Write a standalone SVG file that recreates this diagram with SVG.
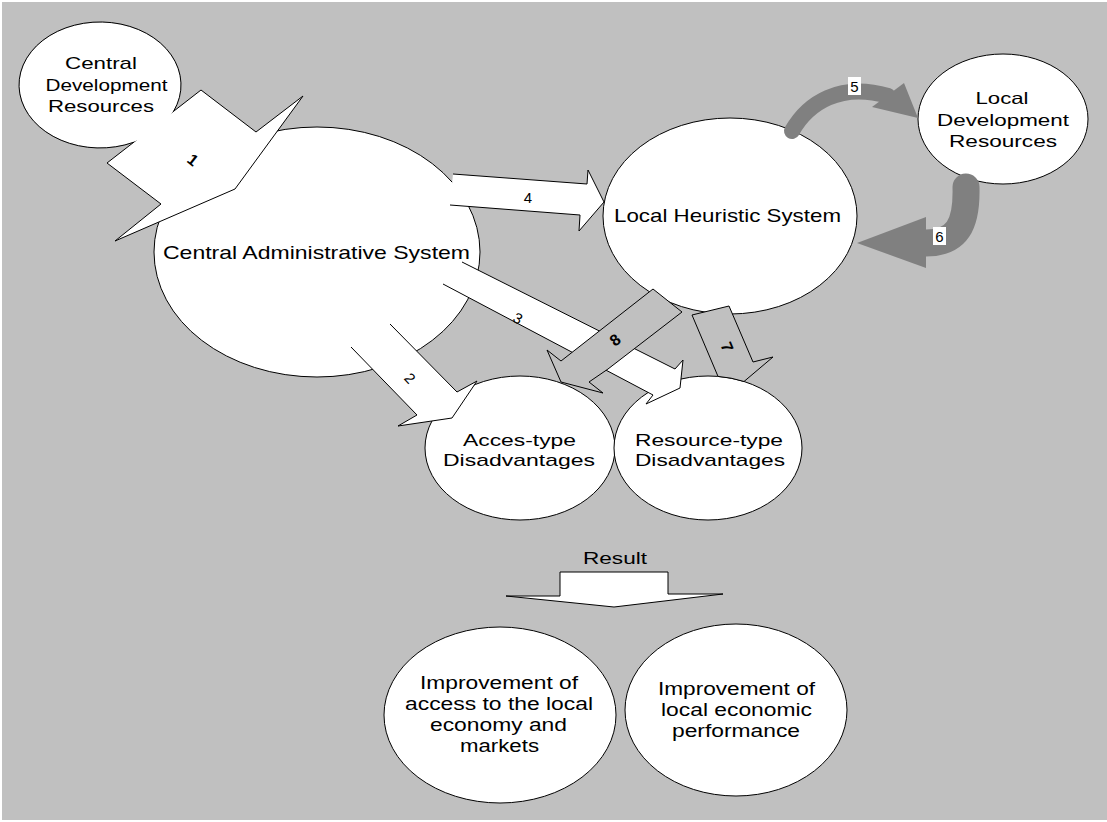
<svg xmlns="http://www.w3.org/2000/svg" width="1107" height="822" viewBox="0 0 1107 822">
<style>
.bg{fill:#c0c0c0}
.node{fill:#fff;stroke:#000;stroke-width:1}
.fillonly{fill:#fff;stroke:none}
.t{font-family:"Liberation Sans",Arial,sans-serif;fill:#000;text-anchor:middle}
.wfill{fill:#fff;stroke:none}
.wline{fill:none;stroke:#000;stroke-width:1;stroke-linejoin:miter}
.wclosed{fill:#fff;stroke:#000;stroke-width:1}
.gclosed{fill:#c0c0c0;stroke:#000;stroke-width:1}
.band{fill:none;stroke:#808080;stroke-linecap:round}
.head{fill:#808080;stroke:none}
.num{font-family:"Liberation Sans",Arial,sans-serif;font-size:15px;fill:#000;text-anchor:middle;dominant-baseline:central}
.numb{font-family:"Liberation Sans",Arial,sans-serif;font-size:16px;font-weight:bold;fill:#000;text-anchor:middle;dominant-baseline:central}
</style>
<rect x="0" y="0" width="1107" height="822" fill="#fff"/>
<rect class="bg" x="2" y="2" width="1105" height="818"/>

<g id="central-admin">
<ellipse class="node" cx="317" cy="252" rx="163" ry="125"/>
<text class="t" x="316.5" y="259" font-size="19" textLength="307" lengthAdjust="spacingAndGlyphs">Central Administrative System</text>
</g>
<g id="local-heuristic">
<ellipse class="node" cx="730" cy="216" rx="127" ry="98"/>
<text class="t" x="727.5" y="222" font-size="18.5" textLength="227" lengthAdjust="spacingAndGlyphs">Local Heuristic System</text>
</g>
<g id="local-dev">
<ellipse class="node" cx="1003" cy="119" rx="85" ry="65"/>
<text class="t" x="1002" y="104" font-size="16.5" textLength="53" lengthAdjust="spacingAndGlyphs">Local</text>
<text class="t" x="1003" y="125.5" font-size="16.5" textLength="132" lengthAdjust="spacingAndGlyphs">Development</text>
<text class="t" x="1003" y="147" font-size="16.5" textLength="108" lengthAdjust="spacingAndGlyphs">Resources</text>
</g>
<g id="access-dis">
<ellipse class="node" cx="520" cy="448" rx="95" ry="72"/>
<text class="t" x="519.5" y="446" font-size="17" textLength="113" lengthAdjust="spacingAndGlyphs">Acces-type</text>
<text class="t" x="519" y="466" font-size="17" textLength="152" lengthAdjust="spacingAndGlyphs">Disadvantages</text>
</g>
<g id="resource-dis">
<ellipse class="node" cx="708" cy="448" rx="94" ry="72"/>
<text class="t" x="709" y="446" font-size="17" textLength="148" lengthAdjust="spacingAndGlyphs">Resource-type</text>
<text class="t" x="710" y="466" font-size="17" textLength="150" lengthAdjust="spacingAndGlyphs">Disadvantages</text>
</g>
<g id="improve-access">
<ellipse class="node" cx="500" cy="715" rx="116" ry="88"/>
<text class="t" x="499" y="689" font-size="17.5" textLength="158" lengthAdjust="spacingAndGlyphs">Improvement of</text>
<text class="t" x="499" y="710" font-size="17.5" textLength="188" lengthAdjust="spacingAndGlyphs">access to the local</text>
<text class="t" x="498.5" y="731" font-size="17.5" textLength="137" lengthAdjust="spacingAndGlyphs">economy and</text>
<text class="t" x="499.5" y="752" font-size="17.5" textLength="79" lengthAdjust="spacingAndGlyphs">markets</text>
</g>
<g id="improve-performance">
<ellipse class="node" cx="736" cy="710" rx="111" ry="86"/>
<text class="t" x="736.5" y="695" font-size="17.5" textLength="157" lengthAdjust="spacingAndGlyphs">Improvement of</text>
<text class="t" x="736.5" y="716" font-size="17.5" textLength="151" lengthAdjust="spacingAndGlyphs">local economic</text>
<text class="t" x="736" y="737" font-size="17.5" textLength="128" lengthAdjust="spacingAndGlyphs">performance</text>
</g>

<g id="connectors">
<!-- 1 -->
<polygon class="wclosed" points="107,163 201,90 256,132 303,96 235,189 115,241 161,204"/>
<text class="numb" transform="translate(193,160) rotate(38)">1</text>
<!-- 4 -->
<polygon class="wfill" points="453,174 587,184 588,170 604,202 579,231 580,215 450,205"/>
<path class="wline" d="M453,174 L587,184 L588,170 L604,202 L579,231 L580,215 L450,205"/>
<text class="num" transform="translate(528,197)">4</text>
<!-- 2 -->
<polygon class="wfill" points="390,324 457,392 477,381 452,418 398,426 417,415 351,347"/>
<path class="wline" d="M390,324 L457,392 L477,381 L452,418 L398,426 L417,415 L351,347"/>
<text class="num" transform="translate(410,378) rotate(47)">2</text>
<!-- 3 -->
<polygon class="wfill" points="462,262 675,369 683,360 680,388 646,404 653,395 443,284"/>
<path class="wline" d="M462,262 L675,369 L683,360 L680,388 L646,404 L653,395 L443,284"/>
<text class="num" transform="translate(518,318) rotate(28)">3</text>
<!-- 8 -->
<polygon class="gclosed" points="653,289 682,312 608,369 589,382 603,393 561,382 547,350 561,361"/>
<text class="numb" transform="translate(615,340) rotate(-38)">8</text>
<!-- 7 -->
<path class="gclosed" d="M692,315 L729,306 L753,362 L773,357 L744,381.5 A94,72 0 0 0 718,376.4 Z"/>
<text class="numb" transform="translate(727,347) rotate(67)">7</text>
<!-- 5 -->
<path class="band" stroke-width="16" d="M792,131 C808,103 840,82 888,96"/>
<polygon class="head" points="904,83 918,118 872,107"/>
<rect x="848" y="77" width="13" height="18" fill="#fff"/>
<text class="num" x="854.5" y="86">5</text>
<!-- 6 -->
<path class="band" stroke-width="27" d="M966,187 C967,225 957,243 926,243"/>
<polygon class="head" points="926,217 857,243 926,268"/>
<rect x="933" y="227" width="13" height="18" fill="#fff"/>
<text class="num" x="939.5" y="236">6</text>
<!-- Result -->
<polygon class="wclosed" points="560,572 668,572 668,594 723,594 614,607 506,596 560,596"/>
</g>

<g id="central-dev">
<ellipse class="fillonly" cx="100" cy="85" rx="80.5" ry="62.5"/>
<path class="wline" d="M173.6,111.3 A81,63 0 1 0 133.6,142.3"/>
<text class="t" x="101" y="69" font-size="17" textLength="72" lengthAdjust="spacingAndGlyphs">Central</text>
<text class="t" x="106.5" y="91" font-size="17" textLength="122" lengthAdjust="spacingAndGlyphs">Development</text>
<text class="t" x="101" y="112" font-size="17" textLength="106" lengthAdjust="spacingAndGlyphs">Resources</text>
</g>

<g id="result-label">
<text class="t" x="615" y="564" font-size="16" textLength="64" lengthAdjust="spacingAndGlyphs">Result</text>
</g>
</svg>
